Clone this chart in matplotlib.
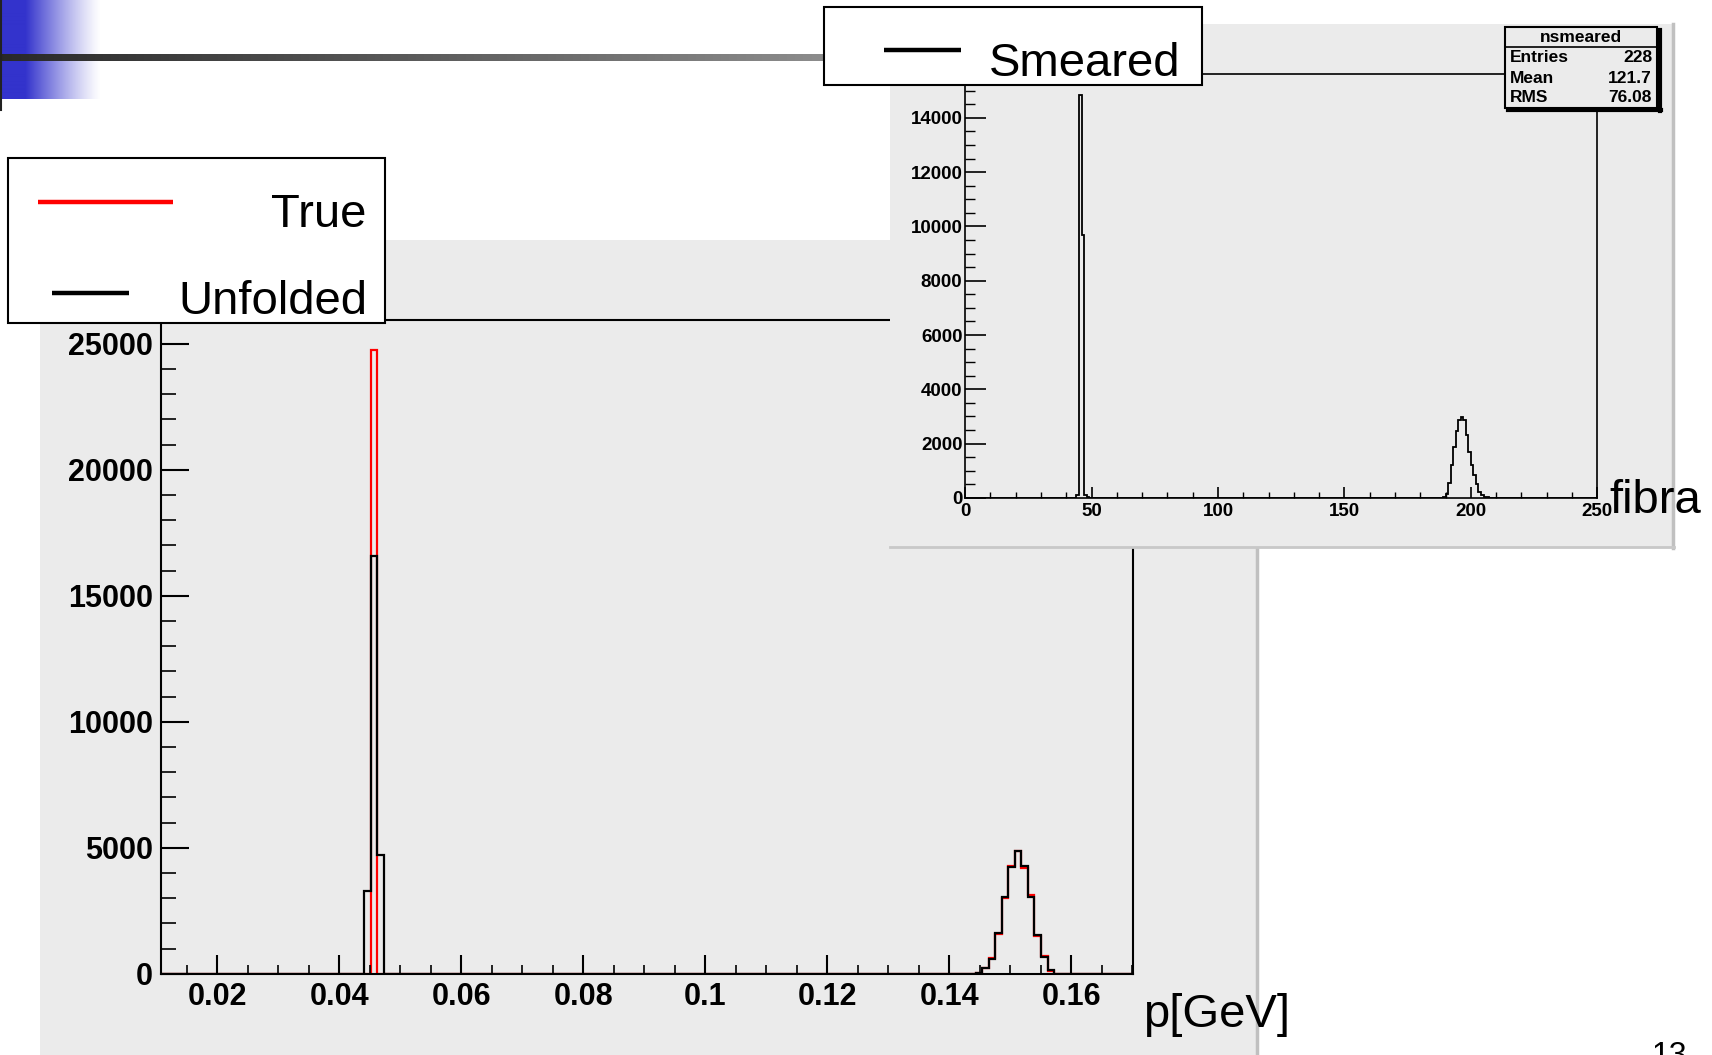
import numpy as np
import matplotlib
matplotlib.use("Agg")
import matplotlib.pyplot as plt
from matplotlib.patches import Rectangle
from matplotlib.lines import Line2D
from matplotlib.ticker import MultipleLocator

plt.rcParams['font.family'] = ['Liberation Sans', 'DejaVu Sans']

# ---------------- data ----------------
# main histogram: p [GeV]
main_range = (0.01, 0.17)
main_nbins = 150
unfolded_bins = [32, 33, 34, 126, 127, 128, 129, 130, 131, 132, 133, 134, 135, 136, 137]
unfolded_counts = [3300, 16600, 4700, 50, 230, 575, 1630, 3050, 4240, 4860, 4270, 3070, 1530, 670, 140]
true_bins = [33, 126, 127, 128, 129, 130, 131, 132, 133, 134, 135, 136, 137]
true_counts = [24750, 40, 250, 620, 1580, 3000, 4300, 4880, 4220, 3120, 1500, 700, 120]

# inset histogram: fibra
inset_range = (0, 250)
inset_nbins = 250
smeared_bins = [44, 45, 46, 47, 48,
                189, 190, 191, 192, 193, 194, 195, 196, 197, 198, 199, 200, 201, 202, 203, 204, 205, 206]
smeared_counts = [120, 14860, 9700, 120, 40,
                  37, 160, 565, 1200, 1880, 2460, 2860, 2985, 2860, 2335, 1700, 1200, 835, 530, 235, 100, 40, 30]

main_xticks = [0.02, 0.04, 0.06, 0.08, 0.10, 0.12, 0.14, 0.16]
main_xtick_labels = ['0.02', '0.04', '0.06', '0.08', '0.1', '0.12', '0.14', '0.16']
main_yticks = [0, 5000, 10000, 15000, 20000, 25000]
main_ytick_labels = ['0', '5000', '10000', '15000', '20000', '25000']
inset_xticks = [0, 50, 100, 150, 200, 250]
inset_xtick_labels = ['0', '50', '100', '150', '200', '250']
inset_yticks = [0, 2000, 4000, 6000, 8000, 10000, 12000, 14000]
inset_ytick_labels = ['0', '2000', '4000', '6000', '8000', '10000', '12000', '14000']

stats_title = 'nsmeared'
stats_names = ['Entries', 'Mean', 'RMS']
stats_values = ['228', '121.7', '76.08']

legend_main_labels = ['True', 'Unfolded']
legend_inset_label = 'Smeared'
main_xlabel = 'p[GeV]'
inset_xlabel = 'fibra'
page_number = '13'

# ---------------- layout helpers ----------------
W, H = 1712, 1055
fig = plt.figure(figsize=(W / 100, H / 100), dpi=100)
fig.patch.set_facecolor('white')


def frect(x0, y0, x1, y1):
    return [x0 / W, 1 - y1 / H, (x1 - x0) / W, (y1 - y0) / H]


def add_rect(x0, y0, x1, y1, z, **kw):
    r = Rectangle((x0 / W, 1 - y1 / H), (x1 - x0) / W, (y1 - y0) / H,
                  transform=fig.transFigure, zorder=z, **kw)
    fig.add_artist(r)


def add_line(xs, ys, z, **kw):
    fig.add_artist(Line2D([x / W for x in xs], [1 - y / H for y in ys],
                          transform=fig.transFigure, zorder=z, **kw))


def add_text(x, y, s, z, **kw):
    fig.text(x / W, 1 - y / H, s, zorder=z, **kw)


PANEL = '#ebebeb'

# ---------------- slide decoration ----------------
dec_ax = fig.add_axes(frect(1, 0, 100, 99))
dec_ax.set_zorder(0.5)
dec_ax.axis('off')
cols = 99
blue = np.array([0.20, 0.20, 0.80])
img = np.ones((1, cols, 3))
for i in range(cols):
    if i < 24:
        img[0, i] = blue
    else:
        t = (i - 24) / (cols - 24)
        img[0, i] = blue * (1 - t) ** 1.2 + np.ones(3) * (1 - (1 - t) ** 1.2)
dec_ax.imshow(img, aspect='auto', extent=[0, 1, 0, 1], interpolation='bilinear')

bar_ax = fig.add_axes(frect(0, 54, 824, 61))
bar_ax.set_zorder(0.6)
bar_ax.axis('off')
gimg = np.linspace(0.16, 0.55, 200)[None, :, None] * np.ones((1, 200, 3))
bar_ax.imshow(gimg, aspect='auto', extent=[0, 1, 0, 1])
add_line([1, 1], [0, 110], 0.7, color='#222222', lw=1.5)

# ---------------- main panel ----------------
add_rect(40.4, 240.2, 1257.8, 1055, 0.2, facecolor=PANEL, edgecolor='none')
add_line([1256.5, 1256.5], [540, 1055], 0.3, color='#c0c0c0', lw=2.5)

ax = fig.add_axes(frect(160.5, 319.9, 1133.3, 973.9))
ax.set_zorder(1)
ax.set_facecolor(PANEL)
main_edges = np.linspace(main_range[0], main_range[1], main_nbins + 1)
true_h = np.zeros(main_nbins)
true_h[true_bins] = true_counts
unf_h = np.zeros(main_nbins)
unf_h[unfolded_bins] = unfolded_counts
ax.stairs(true_h, main_edges, color='red', lw=1.6, baseline=0)
ax.stairs(unf_h, main_edges, color='black', lw=1.6, baseline=0)
ax.set_xlim(0.0107, 0.1702)
ax.set_ylim(0, 25950)
ax.set_xticks(main_xticks)
ax.set_xticklabels(main_xtick_labels, fontsize=22, fontweight='bold')
ax.set_yticks(main_yticks)
ax.set_yticklabels(main_ytick_labels, fontsize=22, fontweight='bold')
ax.xaxis.set_minor_locator(MultipleLocator(0.005))
ax.yaxis.set_minor_locator(MultipleLocator(1000))
ax.tick_params(axis='x', which='major', direction='in', length=13.5, width=1.5, pad=6)
ax.tick_params(axis='x', which='minor', direction='in', length=6.5, width=1.2)
ax.tick_params(axis='y', which='major', direction='in', length=20, width=1.5, pad=5.5)
ax.tick_params(axis='y', which='minor', direction='in', length=11, width=1.2)
for s in ax.spines.values():
    s.set_linewidth(1.5)

# ---------------- inset panel ----------------
add_rect(889.8, 24, 1673.7, 548.1, 2, facecolor=PANEL, edgecolor='none')
add_line([1672.5, 1672.5], [24, 548], 2.1, color='#c0c0c0', lw=2.5)
add_line([889.8, 1673.7], [547, 547], 2.1, color='#c8c8c8', lw=2.0)

iax = fig.add_axes(frect(965.2, 74.2, 1597.3, 497.9))
iax.set_zorder(3)
iax.set_facecolor(PANEL)
inset_edges = np.linspace(inset_range[0], inset_range[1], inset_nbins + 1)
sm_h = np.zeros(inset_nbins)
sm_h[smeared_bins] = smeared_counts
iax.stairs(sm_h, inset_edges, color='black', lw=1.3, baseline=0)
iax.set_xlim(0, 250)
iax.set_ylim(0, 15610)
iax.set_xticks(inset_xticks)
iax.set_xticklabels(inset_xtick_labels, fontsize=13.5, fontweight='bold')
iax.set_yticks(inset_yticks)
iax.set_yticklabels(inset_ytick_labels, fontsize=13.5, fontweight='bold')
iax.xaxis.set_minor_locator(MultipleLocator(10))
iax.yaxis.set_minor_locator(MultipleLocator(500))
iax.tick_params(axis='x', which='major', direction='in', length=8, width=1.2, pad=3.5)
iax.tick_params(axis='x', which='minor', direction='in', length=4, width=1.0)
iax.tick_params(axis='y', which='major', direction='in', length=15, width=1.2, pad=2)
iax.tick_params(axis='y', which='minor', direction='in', length=7, width=1.0)
for s in iax.spines.values():
    s.set_linewidth(1.2)

# stats box
add_rect(1505, 27, 1657, 108, 4, facecolor=PANEL, edgecolor='black', lw=1.5)
add_line([1659.5, 1659.5], [30, 110.5], 4.1, color='black', lw=3)
add_line([1508, 1661], [109.5, 109.5], 4.1, color='black', lw=3)
add_line([1505, 1657], [46.5, 46.5], 4.1, color='black', lw=1.2)
add_text(1581, 37, stats_title, 4.2, ha='center', va='center', fontsize=12.5, fontweight='bold')
for yy, name, val in zip([57, 78.5, 97.5], stats_names, stats_values):
    add_text(1510, yy, name, 4.2, ha='left', va='center', fontsize=12.5, fontweight='bold')
    add_text(1652, yy, val, 4.2, ha='right', va='center', fontsize=12.5, fontweight='bold')

# ---------------- legends ----------------
add_rect(7.6, 158.3, 385.4, 323.2, 5, facecolor='white', edgecolor='black', lw=1.5)
add_line([38, 172.5], [202, 202], 5.1, color='red', lw=3.2, solid_capstyle='butt')
add_line([52, 129], [292.6, 292.6], 5.1, color='black', lw=3.2, solid_capstyle='butt')
add_text(366, 227, legend_main_labels[0], 5.2, ha='right', va='baseline', fontsize=34)
add_text(367, 314.4, legend_main_labels[1], 5.2, ha='right', va='baseline', fontsize=34)

add_rect(824.3, 6.6, 1202.1, 85.2, 5, facecolor='white', edgecolor='black', lw=1.5)
add_line([884, 961], [50, 50], 5.1, color='black', lw=3.2, solid_capstyle='butt')
add_text(989, 76.4, legend_inset_label, 5.2, ha='left', va='baseline', fontsize=34)

# ---------------- axis titles & page number ----------------
add_text(1143, 1027, main_xlabel, 6, ha='left', va='baseline', fontsize=34)
add_text(1609, 513, inset_xlabel, 6, ha='left', va='baseline', fontsize=34)
add_text(1652, 1064, page_number, 6, ha='left', va='baseline', fontsize=23)

fig.savefig('out.png', dpi=100, facecolor='white')
